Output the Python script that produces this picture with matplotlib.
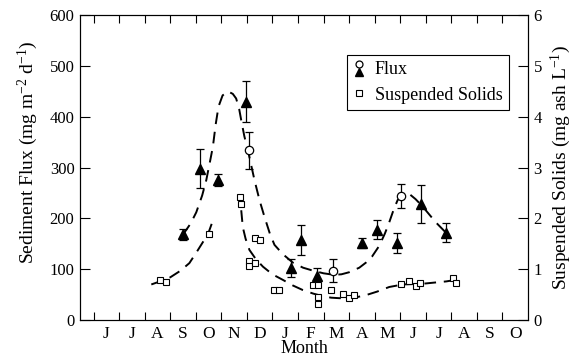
"""Sediment flux and suspended solids by month, with fitted dashed curves."""

import matplotlib

matplotlib.use("Agg")  # headless
import matplotlib.pyplot as plt
from matplotlib.legend_handler import HandlerBase
from matplotlib.lines import Line2D

plt.rcParams["font.family"] = ["Liberation Serif", "DejaVu Serif"]
plt.rcParams["mathtext.fontset"] = "custom"
plt.rcParams["mathtext.rm"] = "Liberation Serif"
plt.rcParams["mathtext.it"] = "Liberation Serif:italic"

# x is in months, 0 = start of June (first year)
MONTHS = ["J", "J", "A", "S", "O", "N", "D", "J", "F", "M", "A", "M", "J", "J", "A", "S", "O"]

# flux, filled triangles (mg m-2 d-1)
tri_x = [3.52, 4.15, 4.87, 5.98, 7.72, 8.12, 8.75, 10.49, 11.08, 11.87, 12.81, 13.79]
tri_y = [169, 298, 276, 430, 102, 157, 87, 151, 178, 151, 228, 172]
tri_err = [11, 38, 12, 41, 18, 30, 15, 10, 19, 20, 38, 18]

# flux, open circles
circ_x = [6.1, 9.37, 12.03]
circ_y = [334, 97, 244]
circ_err = [36, 23, 23]

# suspended solids, open squares (mg ash L-1)
ss_x = [2.62, 2.85, 4.52, 5.73, 5.78, 6.1, 6.1, 6.3, 6.3, 6.5, 7.08, 7.27, 8.58, 8.79,
        8.79, 8.79, 9.3, 9.78, 10.01, 10.21, 12.03, 12.36, 12.62, 12.77, 14.07, 14.18]
ss_y = [0.79, 0.75, 1.69, 2.43, 2.28, 1.16, 1.07, 1.13, 1.62, 1.57, 0.59, 0.59, 0.68, 0.68,
        0.45, 0.31, 0.60, 0.51, 0.43, 0.49, 0.71, 0.77, 0.67, 0.72, 0.82, 0.73]

# dashed fit through flux
fit_flux_x = [3.5, 3.8, 4.02, 4.25, 4.41, 4.55, 4.67, 4.78, 4.89, 5.05, 5.26, 5.45, 5.58,
              5.7, 5.78, 5.9, 6.04, 6.3, 6.5, 6.69, 6.9, 7.08, 7.4, 7.8, 8.2, 8.6, 9.0,
              9.4, 9.7, 10.0, 10.4, 10.66, 10.9, 11.18, 11.4, 11.57, 11.75, 11.9, 12.1,
              12.36, 12.6, 12.85, 13.1, 13.4, 13.79]
fit_flux_y = [168, 190, 212, 245, 275, 310, 341, 385, 420, 442, 450, 445, 436,
              415, 393, 362, 334, 275, 235, 203, 170, 148, 130, 113, 103, 97, 92,
              89, 90, 94, 103, 113, 125, 146, 170, 192, 218, 236, 246,
              248, 238, 225, 210, 192, 172]

# dashed fit through suspended solids (two pieces)
fit_ss1_x = [2.26, 2.6, 3.0, 3.4, 3.75, 4.05, 4.3, 4.5, 4.65]
fit_ss1_y = [0.70, 0.76, 0.84, 0.97, 1.12, 1.35, 1.55, 1.72, 1.93]
fit_ss2_x = [5.78, 5.84, 5.95, 6.1, 6.35, 6.63, 7.0, 7.41, 7.8, 8.19, 8.6, 8.97, 9.3,
             9.62, 10.0, 10.3, 10.66, 11.1, 11.57, 12.1, 12.6, 13.0, 13.4, 13.8, 14.3]
fit_ss2_y = [2.16, 1.83, 1.6, 1.38, 1.2, 1.05, 0.9, 0.79, 0.68, 0.59, 0.52, 0.47, 0.44,
             0.43, 0.43, 0.45, 0.49, 0.56, 0.65, 0.70, 0.71, 0.72, 0.74, 0.76, 0.80]


class FluxHandler(HandlerBase):
    """Circle stacked on top of a triangle, as in the original key."""

    def create_artists(self, legend, orig_handle, xdescent, ydescent,
                       width, height, fontsize, trans):
        cx = width / 2 - xdescent
        cy = height / 2 - ydescent
        off = 0.3 * height
        c = Line2D([cx], [cy + off], marker="o", ms=5, mfc="white", mec="black",
                   mew=0.9, ls="none", transform=trans)
        t = Line2D([cx], [cy - off], marker="^", ms=6, color="black",
                   ls="none", transform=trans)
        return [c, t]


def main():
    fig = plt.figure(figsize=(5.84, 3.6), dpi=100)
    ax = fig.add_axes([0.137, 0.111, 0.767, 0.847])
    ax2 = ax.twinx()

    dash = (0, (6, 4))
    ax.plot(fit_flux_x, fit_flux_y, color="black", lw=1.4, ls=dash)
    ax2.plot(fit_ss1_x, fit_ss1_y, color="black", lw=1.4, ls=dash)
    ax2.plot(fit_ss2_x, fit_ss2_y, color="black", lw=1.4, ls=dash)

    ax.errorbar(tri_x, tri_y, yerr=tri_err, fmt="^", ms=7, color="black",
                ecolor="black", elinewidth=0.9, capsize=3, capthick=0.9)
    ax.errorbar(circ_x, circ_y, yerr=circ_err, fmt="o", ms=6, mfc="white", mec="black",
                mew=0.9, ecolor="black", elinewidth=0.9, capsize=3, capthick=0.9)
    ax2.plot(ss_x, ss_y, "s", ms=4.5, mfc="white", mec="black", mew=0.8)

    ax.set_xlim(-0.53, 17)
    ax.set_ylim(0, 600)
    ax2.set_ylim(0, 6)

    ax.set_xticks(range(17))
    ax.set_xticklabels([])
    ax.set_xticks([i + 0.5 for i in range(17)], minor=True)
    ax.set_xticklabels(MONTHS, minor=True)
    ax.tick_params(axis="x", which="major", direction="in", length=6, width=0.8,
                   top=True, bottom=True)
    ax.tick_params(axis="x", which="minor", length=0, labelsize=12.5, pad=4)
    ax.set_yticks(range(0, 601, 100))
    ax.tick_params(axis="y", direction="in", length=7, width=0.8, labelsize=12,
                   right=False, pad=4)
    ax2.set_yticks(range(7))
    ax2.tick_params(axis="y", direction="in", length=7, width=0.8, labelsize=12, pad=4)

    for a in (ax, ax2):
        for s in a.spines.values():
            s.set_linewidth(0.8)

    ax.set_xlabel("Month", fontsize=13, labelpad=-1)
    ax.set_ylabel("Sediment Flux (mg m$^{-2}$ d$^{-1}$)", fontsize=14)
    ax.yaxis.set_label_coords(-0.09, 0.55)
    ax2.set_ylabel("Suspended Solids (mg ash L$^{-1}$)", fontsize=14, labelpad=5)

    flux_key = Line2D([], [], color="black")
    ss_key = Line2D([], [], marker="s", ms=4.5, mfc="white", mec="black", mew=0.8, ls="none")
    leg = ax2.legend([flux_key, ss_key], ["Flux", "Suspended Solids"],
                     handler_map={flux_key: FluxHandler()},
                     loc="upper left", bbox_to_anchor=(0.595, 0.869), borderaxespad=0,
                     fancybox=False, edgecolor="black", framealpha=1, fontsize=13,
                     handlelength=0.7, handletextpad=0.5, labelspacing=0.45,
                     borderpad=0.35)
    leg.get_frame().set_linewidth(0.8)

    fig.savefig("out.png", dpi=100)
    plt.close(fig)


if __name__ == "__main__":
    main()
